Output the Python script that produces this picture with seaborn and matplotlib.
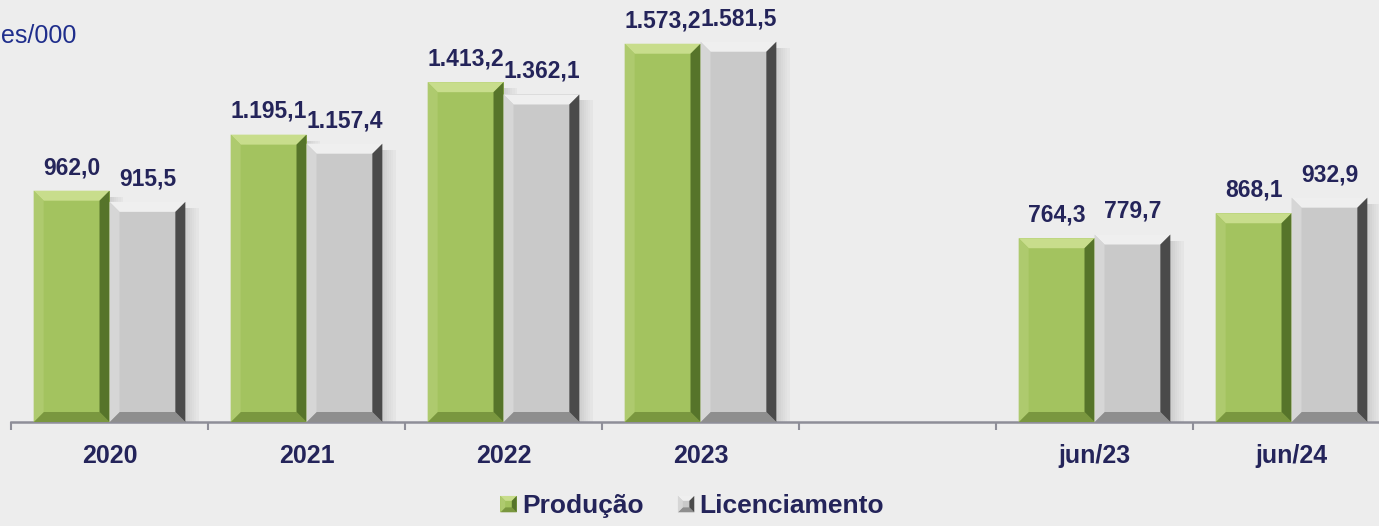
"""Produção x Licenciamento - barras com efeito chanfrado."""
import pandas as pd
import matplotlib
matplotlib.use('Agg')
import matplotlib.pyplot as plt
import seaborn as sns
from matplotlib.colors import to_hex
from matplotlib.patches import Polygon, Rectangle
from matplotlib.legend_handler import HandlerBase

categories = ['2020', '2021', '2022', '2023', '', 'jun/23', 'jun/24']
producao = [962.0, 1195.1, 1413.2, 1573.2, None, 764.3, 868.1]
licenciamento = [915.5, 1157.4, 1362.1, 1581.5, None, 779.7, 932.9]
series = ['Produção', 'Licenciamento']
unit_label = 'es/000'

BG = '#EDEDED'
TEXT = '#24245A'
AXIS = '#8E8E98'
PALETTE = {'Produção': '#A3C35F', 'Licenciamento': '#C9C9C9'}
BEVEL = {
    '#a3c35f': dict(top='#C8DD8C', left='#AECA6E', right='#56742A', bottom='#7A973F'),
    '#c9c9c9': dict(top='#EFEFEF', left='#D6D6D6', right='#4A4A4A', bottom='#8E8E8E'),
}

W, H, DPI = 1379, 526, 100
YMAX = 1755


def bevel_patches(x0, y0, w, h, bx, by, base, **kw):
    c = BEVEL[to_hex(base)]
    x1, y1 = x0 + w, y0 + h
    return [
        Polygon([(x0, y1), (x1, y1), (x1 - bx, y1 - by), (x0 + bx, y1 - by)], fc=c['top'], lw=0, **kw),
        Polygon([(x0, y0), (x1, y0), (x1 - bx, y0 + by), (x0 + bx, y0 + by)], fc=c['bottom'], lw=0, **kw),
        Polygon([(x0, y0), (x0, y1), (x0 + bx, y1 - by), (x0 + bx, y0 + by)], fc=c['left'], lw=0, **kw),
        Polygon([(x1, y0), (x1, y1), (x1 - bx, y1 - by), (x1 - bx, y0 + by)], fc=c['right'], lw=0, **kw),
    ]


class BevelHandler(HandlerBase):
    def create_artists(self, legend, orig_handle, xdescent, ydescent, width, height, fontsize, trans):
        side = min(width, height)
        x0, y0 = -xdescent, -ydescent
        base = orig_handle.get_facecolor()
        rect = Rectangle((x0, y0), side, side, fc=base, lw=0, transform=trans)
        parts = bevel_patches(x0, y0, side, side, side * 0.3, side * 0.3, base)
        for p in parts:
            p.set_transform(trans)
        return [rect] + parts


df = pd.DataFrame({'categoria': categories, 'Produção': producao, 'Licenciamento': licenciamento})
df = df.melt(id_vars='categoria', var_name='serie', value_name='valor').dropna()

fig = plt.figure(figsize=(W / DPI, H / DPI), dpi=DPI, facecolor=BG)
ax = fig.add_axes([11 / W, 104 / H, 1379 / W, 422 / H], facecolor=BG)

sns.barplot(data=df, x='categoria', y='valor', hue='serie', order=categories,
            hue_order=series, palette=PALETTE, width=0.77, saturation=1,
            linewidth=0, legend=False, ax=ax, zorder=3)

ax.set_xlim(-0.5, len(categories) - 0.5)
ax.set_ylim(0, YMAX)

# bevel size in data units (about 10 px)
bx = 10 / (1379 / len(categories))
by = 10 / (422 / YMAX)

for bar in list(ax.patches):
    x0, w, h = bar.get_x(), bar.get_width(), bar.get_height()
    if h <= 0:
        continue
    for p in bevel_patches(x0, 0, w, h, bx, by, bar.get_facecolor(), zorder=4):
        ax.add_patch(p)
    # soft shadow to the right
    for k in range(6):
        ax.add_patch(Rectangle((x0 + w + k * bx * 0.22, 0), bx * 0.22, h - by * 0.6,
                               fc='black', alpha=0.12 - k * 0.018, lw=0, zorder=2))
    txt = f'{h:,.1f}'.replace(',', '#').replace('.', ',').replace('#', '.')
    ax.annotate(txt, (x0 + w / 2, h), xytext=(0, 12), textcoords='offset points',
                ha='center', va='baseline', fontsize=16.5, fontweight='bold', color=TEXT,
                zorder=5)

for s in ['top', 'left', 'right']:
    ax.spines[s].set_visible(False)
ax.spines['bottom'].set_color(AXIS)
ax.spines['bottom'].set_linewidth(1.8)
ax.set_yticks([])
ax.set_xticks(range(len(categories)))
ax.set_xticklabels(categories, fontsize=18, fontweight='bold', color=TEXT)
ax.set_xticks([i - 0.5 for i in range(len(categories) + 1)], minor=True)
ax.tick_params(axis='x', which='major', length=0, pad=16)
ax.tick_params(axis='x', which='minor', length=6, width=1.5, color=AXIS)
ax.set_xlabel('')
ax.set_ylabel('')

fig.text(1 / W, 1 - 36 / H, unit_label, ha='left', va='center', fontsize=18, color='#1F2E8C')

handles = [Rectangle((0, 0), 1, 1, fc=PALETTE[s]) for s in series]
fig.legend(handles, series, handler_map={Rectangle: BevelHandler()}, loc='lower center',
           bbox_to_anchor=(0.502, -0.03), ncol=2, frameon=False, handlelength=0.62,
           handleheight=0.62, handletextpad=0.2, columnspacing=1.3,
           prop=dict(size=19, weight='bold'), labelcolor=TEXT)

for t in fig.findobj(matplotlib.text.Text):
    t.set_fontfamily(['Liberation Sans', 'DejaVu Sans'])

fig.savefig('out.png', dpi=DPI, facecolor=BG)
